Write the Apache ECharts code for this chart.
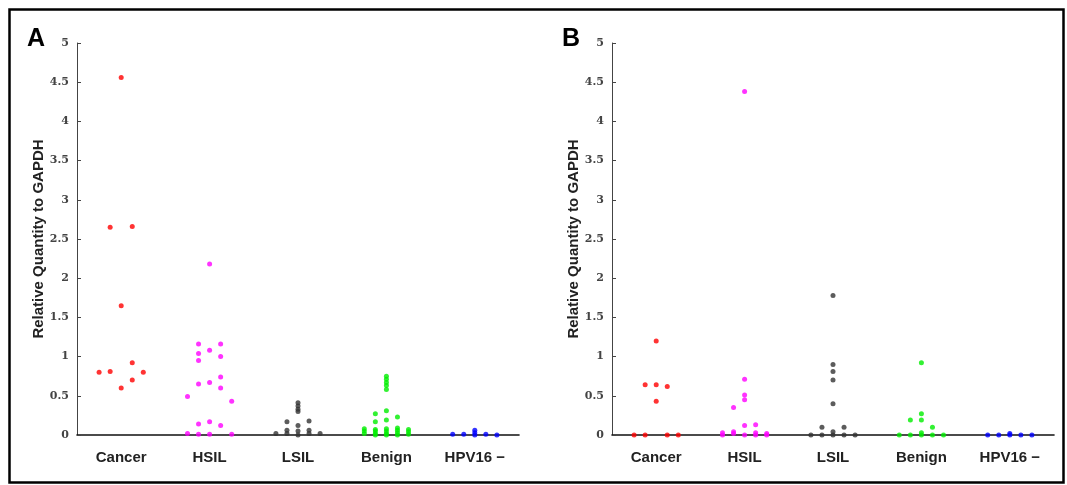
<!DOCTYPE html>
<html>
<head>
<meta charset="utf-8">
<script src="https://cdn.jsdelivr.net/npm/echarts@6/dist/echarts.min.js"></script>
<style>
  html, body { margin: 0; padding: 0; background: #fff; }
  #chart { width: 1067px; height: 485px; }
</style>
</head>
<body>
<div id="chart"></div>
<script>
var groups = ['Cancer', 'HSIL', 'LSIL', 'Benign', 'HPV16 \u2212'];
var colors = ['#ff0000', '#ff00ff', '#333333', '#00ee00', '#0000ff'];

// each group: 5 columns of dots (left to right)
var cancerA = [[0.80], [2.65, 0.81], [4.56, 1.65, 0.60], [2.66, 0.92, 0.70], [0.80]];
var hsilA = [[0.49, 0.02], [1.16, 1.04, 0.95, 0.65, 0.14, 0.01], [2.18, 1.08, 0.67, 0.17, 0.01], [1.16, 1.00, 0.74, 0.60, 0.12], [0.43, 0.01]];
var lsilA = [[0.02], [0.17, 0.06, 0.02], [0.41, 0.37, 0.33, 0.30, 0.12, 0.05, 0.0], [0.18, 0.06, 0.02], [0.02]];
var benignA = [[0.08, 0.05, 0.02], [0.27, 0.17, 0.07, 0.05, 0.02, 0.0], [0.75, 0.71, 0.67, 0.63, 0.58, 0.31, 0.19, 0.08, 0.05, 0.02, 0.0], [0.23, 0.09, 0.06, 0.03, 0.0], [0.07, 0.04, 0.01]];
var hpvA = [[0.01], [0.01], [0.06, 0.03, 0.0], [0.01], [0.0]];

var cancerB = [[0.0], [0.64, 0.0], [1.20, 0.64, 0.43], [0.62, 0.0], [0.0]];
var hsilB = [[0.03, 0.0], [0.35, 0.04, 0.02], [4.38, 0.71, 0.51, 0.45, 0.12, 0.0], [0.13, 0.03, 0.0], [0.02, 0.0]];
var lsilB = [[0.0], [0.10, 0.0], [1.78, 0.90, 0.81, 0.70, 0.40, 0.04, 0.0], [0.10, 0.0], [0.0]];
var benignB = [[0.0], [0.19, 0.0], [0.92, 0.27, 0.19, 0.03, 0.0], [0.10, 0.0], [0.0]];
var hpvB = [[0.0], [0.0], [0.02, 0.0], [0.0], [0.0]];

var yTicks = { min: 0, max: 5, interval: 0.5 };

var panels = [
  { letter: 'A', left: 77, data: [cancerA, hsilA, lsilA, benignA, hpvA] },
  { letter: 'B', left: 612, data: [cancerB, hsilB, lsilB, benignB, hpvB] }
];

var colStep = 0.125;
var grid = [], xAxis = [], yAxis = [], series = [], graphic = [];

panels.forEach(function (p, pi) {
  grid.push({ left: p.left, top: 43, width: 442, height: 392 });
  // category axis: labels + base line
  xAxis.push({
    type: 'category', gridIndex: pi, data: groups, boundaryGap: true,
    axisLine: { onZero: false, lineStyle: { color: '#111', width: 1.6 } },
    axisTick: { show: false },
    axisLabel: { margin: 15, color: '#222', fontFamily: 'Liberation Sans', fontWeight: 'bold', fontSize: 15 }
  });
  // value axis for dot placement within categories
  xAxis.push({
    type: 'value', gridIndex: pi, min: -0.5, max: 4.5, show: false
  });
  yAxis.push({
    type: 'value', gridIndex: pi, min: yTicks.min, max: yTicks.max, interval: yTicks.interval,
    name: 'Relative Quantity to GAPDH', nameLocation: 'middle', nameGap: 30,
    nameTextStyle: { fontFamily: 'Liberation Sans', fontWeight: 'bold', fontSize: 15, color: '#222' },
    axisLine: { show: true, onZero: false, lineStyle: { color: '#444', width: 1 } },
    axisTick: { show: true, inside: true, length: 4, lineStyle: { color: '#444' } },
    splitLine: { show: false },
    axisLabel: { margin: 8, color: '#444', fontFamily: 'DejaVu Serif', fontWeight: 'bold', fontSize: 11 }
  });
  p.data.forEach(function (cols, g) {
    var pts = [];
    cols.forEach(function (vals, c) {
      vals.forEach(function (v) { pts.push([g + (c - 2) * colStep, v]); });
    });
    series.push({
      type: 'scatter', xAxisIndex: pi * 2 + 1, yAxisIndex: pi,
      symbol: 'circle', symbolSize: 5, data: pts,
      itemStyle: { color: colors[g] }, silent: true
    });
  });
  graphic.push({
    type: 'text', left: p.left - 50, top: 27,
    style: { text: p.letter, font: 'bold 25px "Liberation Sans"', fill: '#000' }
  });
});

graphic.push({
  type: 'rect', left: 7, top: 7,
  shape: { width: 1054, height: 473 },
  style: { fill: 'none', stroke: '#000', lineWidth: 2.5 }
});

var chart = echarts.init(document.getElementById('chart'));
chart.setOption({
  animation: false,
  grid: grid,
  xAxis: xAxis,
  yAxis: yAxis,
  series: series,
  graphic: graphic
});
</script>
</body>
</html>
